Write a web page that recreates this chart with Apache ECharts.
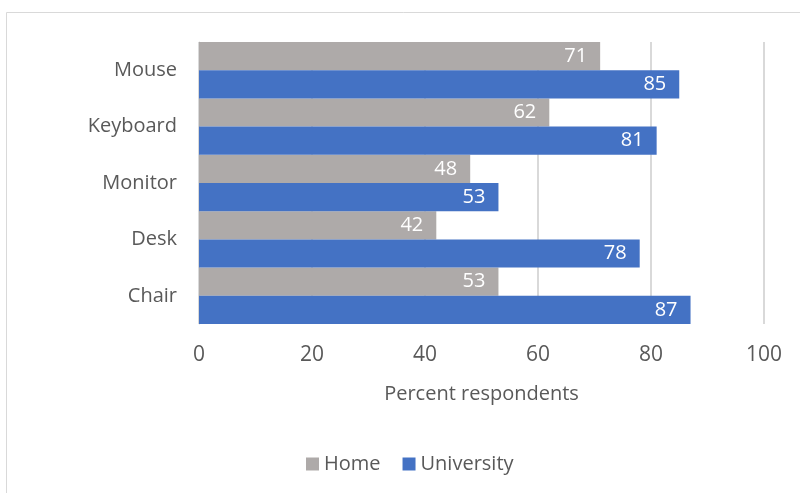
<!DOCTYPE html>
<html>
<head>
<meta charset="utf-8">
<script src="https://cdn.jsdelivr.net/npm/echarts@6/dist/echarts.min.js"></script>
<style>
  html, body { margin: 0; padding: 0; background: #fff; }
  #chart { width: 800px; height: 493px; }
</style>
</head>
<body>
<div id="chart"></div>
<script>
// Survey items, listed top to bottom
const categories = ['Mouse', 'Keyboard', 'Monitor', 'Desk', 'Chair'];
const homeValues = [71, 62, 48, 42, 53];
const universityValues = [85, 81, 53, 78, 87];
const xTicks = [0, 20, 40, 60, 80, 100];

const FONT = '"Open Sans", "Liberation Sans", sans-serif';
const TEXT = '#595959';

const chart = echarts.init(document.getElementById('chart'), null, { renderer: 'canvas' });

const valueLabel = {
  show: true,
  position: 'insideRight',
  distance: 13,
  color: '#ffffff',
  fontFamily: FONT,
  fontSize: 20
};

chart.setOption({
  backgroundColor: '#ffffff',
  animation: false,
  graphic: [{
    type: 'rect',
    shape: { x: 6.5, y: 12.5, width: 820, height: 520 },
    style: { fill: 'none', stroke: '#d9d9d9', lineWidth: 1 },
    silent: true,
    z: -1
  }],
  grid: { left: 199, right: 36, top: 42, bottom: 169, containLabel: false },
  legend: {
    top: 449,
    left: 301,
    itemWidth: 13,
    itemHeight: 13,
    itemGap: 22,
    icon: 'rect',
    textStyle: { color: TEXT, fontFamily: FONT, fontSize: 20 },
    data: ['Home', 'University']
  },
  xAxis: {
    type: 'value',
    min: xTicks[0],
    max: xTicks[xTicks.length - 1],
    interval: 20,
    name: 'Percent respondents',
    nameLocation: 'middle',
    nameGap: 60,
    nameTextStyle: { color: TEXT, fontFamily: FONT, fontSize: 20 },
    axisLine: { show: false },
    axisTick: { show: false },
    axisLabel: { color: TEXT, fontFamily: FONT, fontSize: 21, margin: 21 },
    splitLine: { show: true, lineStyle: { color: '#d9d9d9', width: 2 } }
  },
  yAxis: {
    type: 'category',
    inverse: true,
    data: categories,
    axisLine: { show: true, lineStyle: { color: '#d9d9d9', width: 1 } },
    axisTick: { show: false },
    axisLabel: { color: TEXT, fontFamily: FONT, fontSize: 20, margin: 22 }
  },
  series: [
    {
      name: 'Home',
      type: 'bar',
      data: homeValues,
      barGap: '0%',
      barCategoryGap: '0%',
      itemStyle: { color: '#aeaaa9' },
      label: valueLabel
    },
    {
      name: 'University',
      type: 'bar',
      data: universityValues,
      barGap: '0%',
      barCategoryGap: '0%',
      itemStyle: { color: '#4472c4' },
      label: valueLabel
    }
  ]
});
</script>
</body>
</html>
